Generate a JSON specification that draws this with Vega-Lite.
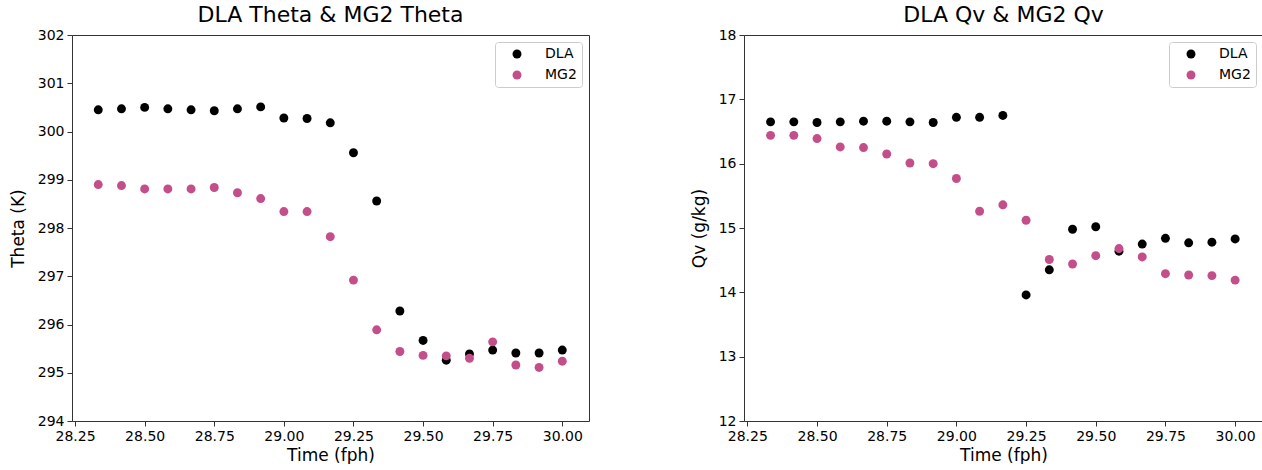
{
  "$schema": "https://vega.github.io/schema/vega-lite/v6.json",
  "padding": {"left": 8, "top": 3, "right": 0, "bottom": 0},
  "background": "white",
  "config": {
    "view": {"stroke": "#333", "strokeWidth": 1},
    "font": "DejaVu Sans",
    "axis": {"grid": false, "domain": false, "tickColor": "#333", "tickSize": 5, "labelFontSize": 14, "titleFontSize": 17, "titleFontWeight": "normal", "labelColor": "black", "titleColor": "black", "labelFont": "DejaVu Sans", "titleFont": "DejaVu Sans", "labelPadding": 3},
    "axisY": {"titlePadding": 10},
    "axisX": {"titlePadding": 4},
    "title": {"fontSize": 22, "fontWeight": "normal", "font": "DejaVu Sans", "offset": 1, "color": "black"},
    "legend": {"orient": "top-right", "offset": 7, "padding": 5, "strokeColor": "#cccccc", "fillColor": "white", "cornerRadius": 3, "labelFontSize": 14, "labelFont": "DejaVu Sans", "labelColor": "black", "symbolSize": 80, "symbolType": "circle", "symbolStrokeWidth": 0, "symbolOffset": 10, "labelOffset": 21, "rowPadding": 7},
    "concat": {"spacing": 99}
  },
  "data": {"values": [
    {"time": 28.3333, "series": "DLA", "theta": 300.45, "qv": 16.65},
    {"time": 28.4167, "series": "DLA", "theta": 300.47, "qv": 16.65},
    {"time": 28.5, "series": "DLA", "theta": 300.50, "qv": 16.64},
    {"time": 28.5833, "series": "DLA", "theta": 300.47, "qv": 16.65},
    {"time": 28.6667, "series": "DLA", "theta": 300.45, "qv": 16.66},
    {"time": 28.75, "series": "DLA", "theta": 300.43, "qv": 16.66},
    {"time": 28.8333, "series": "DLA", "theta": 300.47, "qv": 16.65},
    {"time": 28.9167, "series": "DLA", "theta": 300.51, "qv": 16.64},
    {"time": 29.0, "series": "DLA", "theta": 300.28, "qv": 16.72},
    {"time": 29.0833, "series": "DLA", "theta": 300.27, "qv": 16.72},
    {"time": 29.1667, "series": "DLA", "theta": 300.18, "qv": 16.75},
    {"time": 29.25, "series": "DLA", "theta": 299.56, "qv": 13.96},
    {"time": 29.3333, "series": "DLA", "theta": 298.56, "qv": 14.35},
    {"time": 29.4167, "series": "DLA", "theta": 296.28, "qv": 14.98},
    {"time": 29.5, "series": "DLA", "theta": 295.67, "qv": 15.02},
    {"time": 29.5833, "series": "DLA", "theta": 295.26, "qv": 14.64},
    {"time": 29.6667, "series": "DLA", "theta": 295.39, "qv": 14.75},
    {"time": 29.75, "series": "DLA", "theta": 295.47, "qv": 14.84},
    {"time": 29.8333, "series": "DLA", "theta": 295.41, "qv": 14.77},
    {"time": 29.9167, "series": "DLA", "theta": 295.41, "qv": 14.78},
    {"time": 30.0, "series": "DLA", "theta": 295.47, "qv": 14.83},
    {"time": 28.3333, "series": "MG2", "theta": 298.90, "qv": 16.44},
    {"time": 28.4167, "series": "MG2", "theta": 298.88, "qv": 16.44},
    {"time": 28.5, "series": "MG2", "theta": 298.81, "qv": 16.39},
    {"time": 28.5833, "series": "MG2", "theta": 298.81, "qv": 16.26},
    {"time": 28.6667, "series": "MG2", "theta": 298.81, "qv": 16.25},
    {"time": 28.75, "series": "MG2", "theta": 298.84, "qv": 16.15},
    {"time": 28.8333, "series": "MG2", "theta": 298.73, "qv": 16.01},
    {"time": 28.9167, "series": "MG2", "theta": 298.61, "qv": 16.00},
    {"time": 29.0, "series": "MG2", "theta": 298.34, "qv": 15.77},
    {"time": 29.0833, "series": "MG2", "theta": 298.34, "qv": 15.26},
    {"time": 29.1667, "series": "MG2", "theta": 297.82, "qv": 15.36},
    {"time": 29.25, "series": "MG2", "theta": 296.92, "qv": 15.12},
    {"time": 29.3333, "series": "MG2", "theta": 295.89, "qv": 14.51},
    {"time": 29.4167, "series": "MG2", "theta": 295.44, "qv": 14.44},
    {"time": 29.5, "series": "MG2", "theta": 295.36, "qv": 14.57},
    {"time": 29.5833, "series": "MG2", "theta": 295.35, "qv": 14.68},
    {"time": 29.6667, "series": "MG2", "theta": 295.30, "qv": 14.55},
    {"time": 29.75, "series": "MG2", "theta": 295.64, "qv": 14.29},
    {"time": 29.8333, "series": "MG2", "theta": 295.16, "qv": 14.27},
    {"time": 29.9167, "series": "MG2", "theta": 295.11, "qv": 14.26},
    {"time": 30.0, "series": "MG2", "theta": 295.24, "qv": 14.19}
  ]},
  "hconcat": [
    {
      "title": "DLA Theta & MG2 Theta",
      "width": 517,
      "height": 386,
      "mark": {"type": "point", "filled": true, "size": 80, "opacity": 1, "strokeWidth": 0},
      "encoding": {
        "x": {"field": "time", "type": "quantitative", "title": "Time (fph)", "scale": {"domain": [28.239, 30.096], "nice": false, "zero": false}, "axis": {"values": [28.25, 28.5, 28.75, 29.0, 29.25, 29.5, 29.75, 30.0], "format": ".2f"}},
        "y": {"field": "theta", "type": "quantitative", "title": "Theta (K)", "scale": {"domain": [294, 302], "nice": false, "zero": false}, "axis": {"values": [294, 295, 296, 297, 298, 299, 300, 301, 302]}},
        "color": {"field": "series", "type": "nominal", "scale": {"domain": ["DLA", "MG2"], "range": ["black", "#c44e8a"]}, "legend": {"title": null}}
      }
    },
    {
      "title": "DLA Qv & MG2 Qv",
      "width": 519,
      "height": 386,
      "mark": {"type": "point", "filled": true, "size": 80, "opacity": 1, "strokeWidth": 0},
      "encoding": {
        "x": {"field": "time", "type": "quantitative", "title": "Time (fph)", "scale": {"domain": [28.238, 30.1], "nice": false, "zero": false}, "axis": {"values": [28.25, 28.5, 28.75, 29.0, 29.25, 29.5, 29.75, 30.0], "format": ".2f"}},
        "y": {"field": "qv", "type": "quantitative", "title": "Qv (g/kg)", "scale": {"domain": [12, 18], "nice": false, "zero": false}, "axis": {"values": [12, 13, 14, 15, 16, 17, 18]}},
        "color": {"field": "series", "type": "nominal", "scale": {"domain": ["DLA", "MG2"], "range": ["black", "#c44e8a"]}, "legend": {"title": null}}
      }
    }
  ],
  "resolve": {"scale": {"x": "independent", "y": "independent", "color": "independent"}, "legend": {"color": "independent"}}
}
